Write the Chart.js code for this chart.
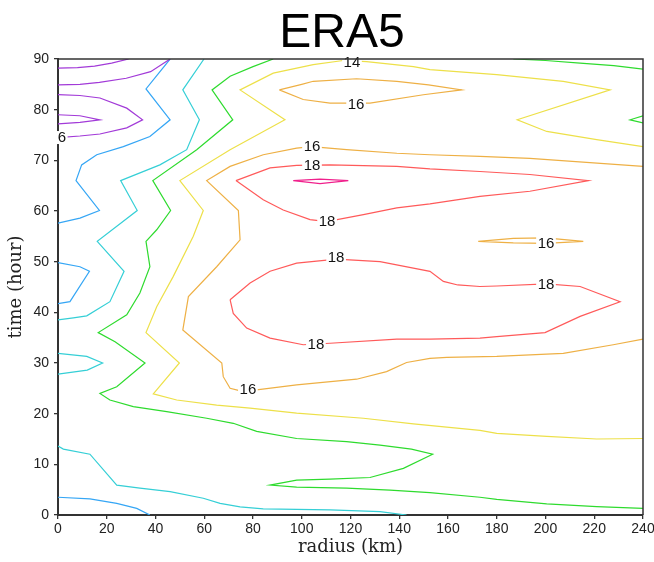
<!DOCTYPE html>
<html>
<head>
<meta charset="utf-8">
<script src="https://cdn.jsdelivr.net/npm/chart.js@4.4.1/dist/chart.umd.min.js"></script>
<style>
  html, body { margin: 0; padding: 0; background: #fff; }
  #wrap { width: 654px; height: 562px; }
</style>
</head>
<body>
<div id="wrap"><canvas id="c" width="654" height="562"></canvas></div>
<script>
// Axis ticks
const radiusTicks = [0, 20, 40, 60, 80, 100, 120, 140, 160, 180, 200, 220, 240];
const timeTicks = [0, 10, 20, 30, 40, 50, 60, 70, 80, 90];

// Contour lines as [radius km, time hour]
const c6Top = [[0,88.2],[8,88.3],[15,88.6],[22,89.2],[29,90]];
const c6Mid = [[0,84.9],[9,85.0],[17,85.4],[28,86.2],[38,87.5],[46,90]];
const c6Loop = [[0,82.95],[9,82.8],[17.2,82.3],[28.2,80.3],[34.7,78.0],[28.2,76.4],[17.2,75.2],[9,74.8],[0,74.5]];
const c6Inner = [[0,79.0],[9,78.8],[17.2,78.0],[9,77.5],[0,77.2]];

const c8Upper = [[46,90],[36.1,84.1],[46,78.0],[37.7,74.7],[26.8,72.7],[15.9,71.1],[9.7,69.1],[7.4,66.0],[17,60.1],[9,58.6],[0,57.6]];
const c8Lower = [[0,49.8],[9,49.0],[12.9,48.1],[4.9,42.1],[0,41.7]];
const c8Bottom = [[0,3.5],[13.1,3.2],[24.1,2.3],[32.3,1.3],[37.7,0]];

const c10Upper = [[59.9,90],[51.2,83.9],[58,78.0],[52.8,72.1],[41.8,69.1],[25.7,66.0],[32.5,60.1],[16.1,54.0],[27.1,48.1],[21.3,42.1],[11.8,39.3],[6.3,38.9],[0,38.5]];
const c10Lower = [[0,31.9],[11.8,31.3],[18.3,30.0],[12,28.6],[0,27.8]];
const c10Bottom = [[0,13.6],[2.2,13.0],[13.1,12.0],[24.1,5.9],[33.6,5.3],[46,4.6],[59.6,3.3],[66.5,2.3],[74.7,1.6],[84.2,1.2],[111.6,1.0],[132.1,0.65],[143,0]];

const c12Main = [[88.3,90],[80,88.5],[70.6,86.6],[63.2,83.9],[71.7,78.0],[56.9,72.1],[38.9,66.0],[46.2,60.1],[40.5,56.3],[36.1,54.0],[37.7,49.0],[33.6,43.8],[28.2,39.5],[16.5,36.0],[23.4,34.2],[35.7,30.0],[24.1,25.3],[17.2,24.0],[21.3,22.7],[30.9,21.4],[44.6,20.4],[61,19.1],[71.9,18.1],[81.5,16.5],[97.9,15.1],[118.4,14.5],[132.1,13.8],[145,13.0],[153.7,12.0],[141.7,9.2],[128,7.4],[111.6,7.1],[97.9,6.9],[87,5.9],[97.9,5.5],[118.4,5.3],[136.2,4.9],[152.6,4.4],[173.1,3.5],[180,3.1],[200.5,2.2],[221,1.65],[240,1.3]];
const c12TopRight = [[186.8,90],[200,89.7],[214.2,89.2],[228,88.7],[240,88.0]];
const c12Right = [[240,78.8],[234.7,78.0],[240,77.4]];

const c14Main = [[240,72.7],[221,74.1],[200.5,75.7],[188.4,78.0],[226.5,83.9],[207.3,85.6],[180,86.9],[152.6,87.9],[145.8,88.5],[126.6,89.5],[117,89.7],[104.7,88.9],[88.3,87.2],[74.7,83.9],[93.1,78.0],[70.6,72.1],[50,66.0],[59.6,60.1],[55.5,55.0],[47.3,47.1],[40.5,41.1],[36.1,36.0],[49.8,30.0],[39.1,23.9],[48.7,22.7],[65.1,21.7],[78.8,21.1],[97.9,20.1],[125.3,19.1],[145.8,18.0],[173.1,16.7],[180,16.1],[200.5,15.5],[221,15.0],[240,15.1]];

const c16Upper = [[90.8,83.9],[100,85.0],[104.7,85.6],[122.5,86.1],[139,85.6],[152,84.9],[165.6,83.9],[149.9,82.95],[128,81.3],[111.6,81.3],[100.6,82.0],[90.8,83.9]];
const c16Small = [[172.4,54.0],[186.8,54.6],[200,54.7],[215.5,54.0],[200,53.6],[186.8,53.7],[172.4,54.0]];
const c16Main = [[240,68.8],[193.6,70.4],[173.1,70.8],[152.6,71.1],[139,71.4],[118.4,72.1],[104,72.7],[97.9,72.4],[84.2,71.1],[70.6,68.8],[61,66.0],[74,60.1],[74.7,54.3],[65.1,49.0],[53.5,43.1],[51.2,36.5],[67.2,30.0],[67.8,27.3],[70.6,25.0],[74,24.6],[81.5,24.7],[97.9,25.7],[122.5,26.8],[134.8,28.3],[143,30.1],[152.6,30.9],[159.5,31.1],[180,31.3],[207.3,31.9],[227.8,33.6],[240,34.7]];

const c18Upper = [[73,66.0],[87,68.5],[97.9,69.0],[111.6,69.1],[139,68.8],[152.6,68.3],[173.1,67.8],[193.6,67.2],[217.6,66.0],[193.6,63.9],[173.1,62.9],[152.6,61.4],[139,60.6],[125.3,59.3],[110.2,57.9],[103.4,58.3],[92.4,60.2],[84.2,62.2],[73,66.0]];
const c18Lower = [[70.6,42.5],[78.8,45.8],[87,48.1],[97.9,49.7],[114.3,50.5],[132.1,50.0],[152.6,48.1],[158.1,46.1],[164,45.4],[173.1,45.1],[180,45.2],[200.5,45.6],[214.2,45.1],[230.6,42.1],[214.2,39.2],[199.8,36.0],[180,35.2],[173.1,34.9],[152.6,34.7],[139,34.7],[111.6,33.9],[100.6,33.6],[87,34.9],[77.4,36.9],[71.9,39.8],[70.6,42.5]];

const c20Core = [[96.5,66.0],[107.5,66.3],[119.1,66.0],[107.5,65.4],[96.5,66.0]];

// Line labels: [text, radius, time]
const contourLabels = [
  ['14', 120.6, 89.3], ['16', 122.3, 81.0], ['16', 104.2, 72.7], ['18', 104.2, 69.1],
  ['18', 110.4, 57.9], ['18', 114.1, 50.8], ['16', 200.2, 53.7], ['18', 200.2, 45.6],
  ['18', 105.8, 33.6], ['16', 77.9, 24.7], ['6', 1.6, 74.5]
];

const levelColors = {
  6: '#a23ad8', 8: '#35a6f5', 10: '#35cfd6', 12: '#2edb2e',
  14: '#ede049', 16: '#eeb045', 18: '#ff5a5a', 20: '#f0208c'
};

const lines = [
  [6, c6Top], [6, c6Mid], [6, c6Loop], [6, c6Inner],
  [8, c8Upper], [8, c8Lower], [8, c8Bottom],
  [10, c10Upper], [10, c10Lower], [10, c10Bottom],
  [12, c12Main], [12, c12TopRight], [12, c12Right],
  [14, c14Main],
  [16, c16Upper], [16, c16Small], [16, c16Main],
  [18, c18Upper], [18, c18Lower],
  [20, c20Core]
];

const datasets = lines.map(([lev, pts]) => ({
  label: String(lev),
  data: pts.map(p => ({ x: p[0], y: p[1] })),
  showLine: true,
  borderColor: levelColors[lev],
  borderWidth: 1.2,
  pointRadius: 0,
  tension: 0,
  fill: false
}));

const axisColor = '#333';

// White-boxed contour value labels, then the plot frame and heading
const decorations = {
  id: 'decorations',
  afterDatasetsDraw(chart) {
    const { ctx, scales: { x, y } } = chart;
    ctx.save();
    ctx.font = '15px "Liberation Sans", Arial, sans-serif';
    ctx.textAlign = 'center';
    ctx.textBaseline = 'middle';
    contourLabels.forEach(([t, r, h]) => {
      const px = x.getPixelForValue(r);
      const py = y.getPixelForValue(h);
      const w = ctx.measureText(t).width + 3;
      ctx.fillStyle = '#fff';
      ctx.fillRect(px - w / 2, py - 6.5, w, 13);
      ctx.fillStyle = '#111';
      ctx.fillText(t, px, py + 0.5);
    });
    ctx.restore();
  },
  afterDraw(chart) {
    const { ctx, chartArea: a } = chart;
    ctx.save();
    ctx.strokeStyle = axisColor;
    ctx.lineWidth = 1.5;
    ctx.beginPath();
    ctx.moveTo(a.left, a.top);
    ctx.lineTo(a.right, a.top);
    ctx.lineTo(a.right, a.bottom);
    ctx.stroke();
    ctx.fillStyle = '#000';
    ctx.font = '48px "Liberation Sans", Arial, sans-serif';
    ctx.textAlign = 'center';
    ctx.textBaseline = 'alphabetic';
    ctx.fillText('ERA5', 342, 47);
    ctx.restore();
  }
};

Chart.defaults.font.family = '"Liberation Sans", Arial, sans-serif';
Chart.defaults.color = '#222';

new Chart(document.getElementById('c'), {
  type: 'scatter',
  data: { datasets },
  options: {
    responsive: false,
    animation: false,
    events: [],
    layout: { padding: { top: 59, right: 0, bottom: 0, left: 0 } },
    plugins: { legend: { display: false }, tooltip: { enabled: false }, title: { display: false } },
    scales: {
      x: {
        type: 'linear', min: 0, max: 240,
        afterFit: s => { s.height = 47; s.paddingRight = 11; s.paddingLeft = 0; },
        afterBuildTicks: s => { s.ticks = radiusTicks.map(v => ({ value: v })); },
        ticks: { font: { size: 14 }, padding: 2, maxRotation: 0, autoSkip: false, color: '#222' },
        grid: { drawOnChartArea: false, tickLength: 4, color: axisColor, lineWidth: 1.3 },
        border: { display: true, color: axisColor, width: 2 },
        title: {
          display: true, text: 'radius (km)',
          font: { family: '"DejaVu Serif", serif', size: 18 },
          color: '#222', padding: { top: 0, bottom: 4 }
        }
      },
      y: {
        type: 'linear', min: 0, max: 90,
        afterFit: s => { s.width = 58; },
        afterBuildTicks: s => { s.ticks = timeTicks.map(v => ({ value: v })); },
        ticks: { font: { size: 14 }, padding: 5, autoSkip: false, color: '#222' },
        grid: { drawOnChartArea: false, tickLength: 4, color: axisColor, lineWidth: 1.3 },
        border: { display: true, color: axisColor, width: 2 },
        title: {
          display: true, text: 'time (hour)',
          font: { family: '"DejaVu Serif", serif', size: 18 },
          color: '#222', padding: { top: 6, bottom: 0 }
        }
      }
    }
  },
  plugins: [decorations]
});
</script>
</body>
</html>
